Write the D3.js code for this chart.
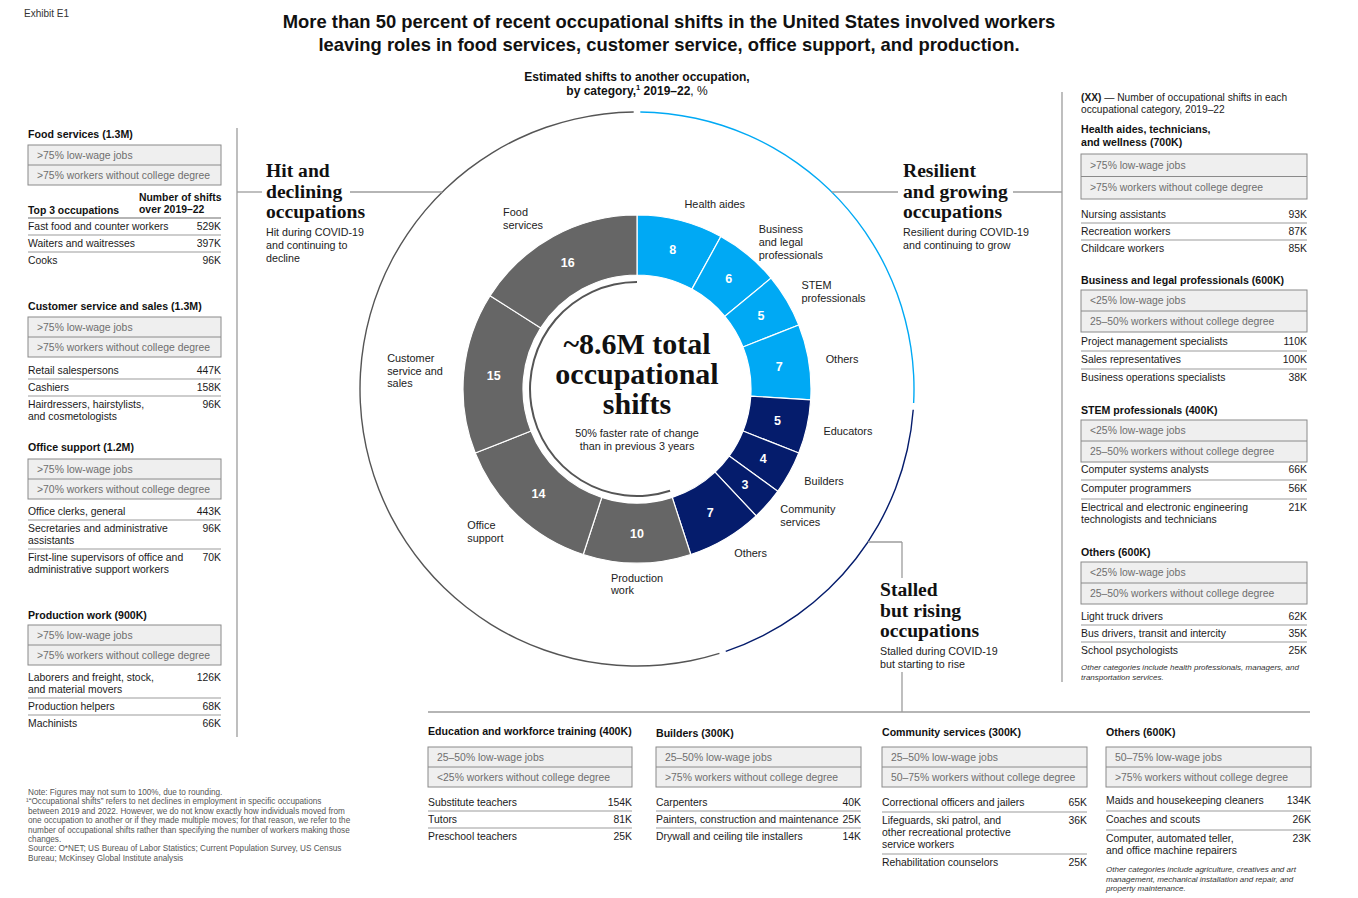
<!DOCTYPE html>
<html><head><meta charset="utf-8">
<script src="https://cdn.jsdelivr.net/npm/d3@7"></script>
<style>
body{margin:0;background:#fff;}
svg{display:block;font-family:"Liberation Sans",Arial,sans-serif;}
</style></head><body>
<svg id="chart" width="1358" height="898"></svg>
<script>
// ---------------- DATA ----------------
const categories = ["Health aides", "Business and legal professionals", "STEM professionals", "Others",
  "Educators", "Builders", "Community services", "Others",
  "Production work", "Office support", "Customer service and sales", "Food services"];
const categoryLabelLines = [["Health aides"], ["Business", "and legal", "professionals"], ["STEM", "professionals"], ["Others"],
  ["Educators"], ["Builders"], ["Community", "services"], ["Others"],
  ["Production", "work"], ["Office", "support"], ["Customer", "service and", "sales"], ["Food", "services"]];
const shares = [8, 6, 5, 7, 5, 4, 3, 7, 10, 14, 15, 16];
const groupOf = ["resilient", "resilient", "resilient", "resilient",
  "stalled", "stalled", "stalled", "stalled",
  "hit", "hit", "hit", "hit"];
const groupNames = ["resilient", "stalled", "hit"];

const foodBox = [">75% low-wage jobs", ">75% workers without college degree"];
const foodRows = [[["Fast food and counter workers"], "529K"], [["Waiters and waitresses"], "397K"], [["Cooks"], "96K"]];
const custBox = [">75% low-wage jobs", ">75% workers without college degree"];
const custRows = [[["Retail salespersons"], "447K"], [["Cashiers"], "158K"], [["Hairdressers, hairstylists,", "and cosmetologists"], "96K"]];
const officeBox = [">75% low-wage jobs", ">70% workers without college degree"];
const officeRows = [[["Office clerks, general"], "443K"], [["Secretaries and administrative", "assistants"], "96K"], [["First-line supervisors of office and", "administrative support workers"], "70K"]];
const prodBox = [">75% low-wage jobs", ">75% workers without college degree"];
const prodRows = [[["Laborers and freight, stock,", "and material movers"], "126K"], [["Production helpers"], "68K"], [["Machinists"], "66K"]];

const healthBox = [">75% low-wage jobs", ">75% workers without college degree"];
const healthRows = [[["Nursing assistants"], "93K"], [["Recreation workers"], "87K"], [["Childcare workers"], "85K"]];
const bizBox = ["<25% low-wage jobs", "25–50% workers without college degree"];
const bizRows = [[["Project management specialists"], "110K"], [["Sales representatives"], "100K"], [["Business operations specialists"], "38K"]];
const stemBox = ["<25% low-wage jobs", "25–50% workers without college degree"];
const stemRows = [[["Computer systems analysts"], "66K"], [["Computer programmers"], "56K"], [["Electrical and electronic engineering", "technologists and technicians"], "21K"]];
const othersRBox = ["<25% low-wage jobs", "25–50% workers without college degree"];
const othersRRows = [[["Light truck drivers"], "62K"], [["Bus drivers, transit and intercity"], "35K"], [["School psychologists"], "25K"]];
const othersRNote = ["Other categories include health professionals, managers, and", "transportation services."];

const eduBox = ["25–50% low-wage jobs", "<25% workers without college degree"];
const eduRows = [[["Substitute teachers"], "154K"], [["Tutors"], "81K"], [["Preschool teachers"], "25K"]];
const buildBox = ["25–50% low-wage jobs", ">75% workers without college degree"];
const buildRows = [[["Carpenters"], "40K"], [["Painters, construction and maintenance"], "25K"], [["Drywall and ceiling tile installers"], "14K"]];
const commBox = ["25–50% low-wage jobs", "50–75% workers without college degree"];
const commRows = [[["Correctional officers and jailers"], "65K"], [["Lifeguards, ski patrol, and", "other recreational protective", "service workers"], "36K"], [["Rehabilitation counselors"], "25K"]];
const othersBBox = ["50–75% low-wage jobs", ">75% workers without college degree"];
const othersBRows = [[["Maids and housekeeping cleaners"], "134K"], [["Coaches and scouts"], "26K"], [["Computer, automated teller,", "and office machine repairers"], "23K"]];
const othersBNote = ["Other categories include agriculture, creatives and art", "management, mechanical installation and repair, and", "property maintenance."];

const notes = ["Note: Figures may not sum to 100%, due to rounding.",
  "¹“Occupational shifts” refers to net declines in employment in specific occupations",
  "between 2019 and 2022. However, we do not know exactly how individuals moved from",
  "one occupation to another or if they made multiple moves; for that reason, we refer to the",
  "number of occupational shifts rather than specifying the number of workers making those",
  "changes.",
  "Source: O*NET; US Bureau of Labor Statistics; Current Population Survey, US Census",
  "Bureau; McKinsey Global Institute analysis"];

// ---------------- DRAWING ----------------
const svg = d3.select("#chart");
const color = d3.scaleOrdinal().domain(groupNames).range(["#00a9f4", "#051c6c", "#666666"]);
const lineColor = "#9c9c9c";

svg.append("text").attr("x", 24).attr("y", 17).attr("font-size", 10).attr("fill", "#333").text("Exhibit E1");
svg.append("text").attr("x", 669).attr("y", 28).attr("text-anchor", "middle").attr("font-size", 18.4).attr("font-weight", "bold").attr("fill", "#111")
  .text("More than 50 percent of recent occupational shifts in the United States involved workers");
svg.append("text").attr("x", 669).attr("y", 51).attr("text-anchor", "middle").attr("font-size", 18.4).attr("font-weight", "bold").attr("fill", "#111")
  .text("leaving roles in food services, customer service, office support, and production.");

const sub = svg.append("g").attr("font-size", 12).attr("fill", "#111").attr("text-anchor", "middle");
sub.append("text").attr("x", 637).attr("y", 81).attr("font-weight", "bold").text("Estimated shifts to another occupation,");
const s2 = sub.append("text").attr("x", 637).attr("y", 95);
s2.append("tspan").attr("font-weight", "bold").text("by category,");
s2.append("tspan").attr("font-size", 7.5).attr("dy", -5).attr("font-weight", "bold").text("1");
s2.append("tspan").attr("dy", 5).attr("font-weight", "bold").text(" 2019–22");
s2.append("tspan").text(", %");

// ---- donut ----
const cx = 637, cy = 389, rIn = 114, rOut = 174, rThin = 107, rBig = 277;
const ringData = categories.map((c, i) => ({ name: c, lines: categoryLabelLines[i], value: shares[i], group: groupOf[i] }));
const pie = d3.pie().sort(null).value(d => d.value).startAngle(0).endAngle(2 * Math.PI);
const arcs = pie(ringData);
const ring = svg.append("g").attr("transform", `translate(${cx},${cy})`);
const arcGen = d3.arc().innerRadius(rIn).outerRadius(rOut);
ring.selectAll("path.seg").data(arcs).join("path").attr("class", "seg")
  .attr("d", arcGen).attr("fill", d => color(d.data.group)).attr("stroke", "#fff").attr("stroke-width", 1.2);

const labArc = d3.arc().innerRadius((rIn + rOut) / 2).outerRadius((rIn + rOut) / 2);
ring.selectAll("text.val").data(arcs).join("text").attr("class", "val")
  .attr("transform", d => `translate(${labArc.centroid(d)})`).attr("dy", "0.36em")
  .attr("text-anchor", "middle").attr("fill", "#fff").attr("font-weight", "bold").attr("font-size", 12.5)
  .text(d => d.data.value);

// group extents
const ext = d3.rollup(arcs, v => [d3.min(v, d => d.startAngle), d3.max(v, d => d.endAngle)], d => d.data.group);
const hitExt = ext.get("hit");
ring.append("path").attr("d", d3.arc().innerRadius(rThin - 1).outerRadius(rThin + 1).startAngle(hitExt[0]).endAngle(hitExt[1])())
  .attr("fill", "#555");
const gap = 0.012;
groupNames.forEach(gn => {
  const e = ext.get(gn);
  ring.append("path").attr("d", d3.arc().innerRadius(rBig - 0.7).outerRadius(rBig + 0.7).startAngle(e[0] + gap).endAngle(e[1] - gap)())
    .attr("fill", gn === "hit" ? "#555" : color(gn));
});

// category labels around ring (left-aligned text blocks)
const lh = 12.8;
arcs.forEach(d => {
  const a = (d.startAngle + d.endAngle) / 2;
  const s = Math.sin(a);
  const rLab = s > 0.2 ? 191 : 195;
  const x = s * rLab, y = -Math.cos(a) * rLab;
  const mode = Math.abs(s) < 0.2 ? "middle" : (s > 0 ? "start" : "end");
  const n = d.data.lines.length;
  const t = ring.append("text").attr("font-size", 10.9).attr("fill", "#222");
  const spans = d.data.lines.map((ln, i) => t.append("tspan").attr("x", 0).attr("y", y - (n - 1) * lh / 2 + 4 + i * lh).text(ln));
  const w = d3.max(spans, sp => sp.node().getComputedTextLength());
  const x0 = mode === "start" ? x : (mode === "end" ? x - w : x - w / 2);
  spans.forEach(sp => sp.attr("x", x0));
});

// center text
const serif = "'Liberation Serif','Times New Roman',serif";
["~8.6M total", "occupational", "shifts"].forEach((t, i) =>
  ring.append("text").attr("y", -35 + i * 30).attr("text-anchor", "middle").attr("font-family", serif)
    .attr("font-weight", "bold").attr("font-size", 30).attr("fill", "#111").text(t));
["50% faster rate of change", "than in previous 3 years"].forEach((t, i) =>
  ring.append("text").attr("y", 48 + i * 13).attr("text-anchor", "middle").attr("font-size", 10.8).attr("fill", "#222").text(t));

// ---- section headings ----
function heading(x, y, lines, subs) {
  lines.forEach((t, i) => svg.append("text").attr("x", x).attr("y", y + i * 20.5).attr("font-family", serif)
    .attr("font-weight", "bold").attr("font-size", 19.6).attr("fill", "#111").text(t));
  subs.forEach((t, i) => svg.append("text").attr("x", x).attr("y", y + 59 + i * 13).attr("font-size", 10.7).attr("fill", "#222").text(t));
}
heading(266, 177, ["Hit and", "declining", "occupations"], ["Hit during COVID-19", "and continuing to", "decline"]);
heading(903, 177, ["Resilient", "and growing", "occupations"], ["Resilient during COVID-19", "and continuing to grow"]);
heading(880, 596, ["Stalled", "but rising", "occupations"], ["Stalled during COVID-19", "but starting to rise"]);

// leader lines
function ln(x1, y1, x2, y2) {
  svg.append("line").attr("x1", x1).attr("y1", y1).attr("x2", x2).attr("y2", y2).attr("stroke", lineColor).attr("stroke-width", 1.3);
}
const circX = (y, side) => cx + side * Math.sqrt(rBig * rBig - (cy - y) * (cy - y));
ln(237, 128, 237, 737);
ln(1062, 92, 1062, 682);
ln(428, 712, 1310, 712);
ln(237, 192, 262, 192); ln(350, 192, circX(192, -1), 192);
ln(circX(192, 1), 192, 898, 192); ln(1013, 192, 1062, 192);
ln(circX(542, 1), 542, 902, 542); ln(902, 542, 902, 578); ln(902, 672, 902, 712);

// ---- panels ----
const FS = 10.4;
function panel(p) {
  const g = svg.append("g");
  p.title.forEach((t, i) => g.append("text").attr("x", p.x).attr("y", p.titleY + i * 13).attr("font-size", 10.6)
    .attr("font-weight", "bold").attr("fill", "#111").text(t));
  const bh = p.boxH / 2;
  g.append("rect").attr("x", p.x).attr("y", p.boxY).attr("width", p.w).attr("height", p.boxH)
    .attr("fill", "#efefef").attr("stroke", "#8a8a8a").attr("stroke-width", 1);
  g.append("line").attr("x1", p.x).attr("x2", p.x + p.w).attr("y1", p.boxY + bh).attr("y2", p.boxY + bh).attr("stroke", "#8a8a8a");
  p.box.forEach((t, i) => g.append("text").attr("x", p.x + 9).attr("y", p.boxY + bh * i + bh / 2 + 3.7)
    .attr("font-size", FS).attr("fill", "#6e6e6e").text(t));
  let t = p.boxY + p.boxH + p.gap;
  if (p.header) {
    g.append("text").attr("x", p.x).attr("y", t + 24).attr("font-size", 10.4).attr("font-weight", "bold").attr("fill", "#111").text("Top 3 occupations");
    g.append("text").attr("x", p.x + 111).attr("y", t + 11).attr("font-size", 10.4).attr("font-weight", "bold").attr("fill", "#111").text("Number of shifts");
    g.append("text").attr("x", p.x + 111).attr("y", t + 23).attr("font-size", 10.4).attr("font-weight", "bold").attr("fill", "#111").text("over 2019–22");
    g.append("line").attr("x1", p.x).attr("x2", p.x + p.w).attr("y1", t + 28).attr("y2", t + 28).attr("stroke", lineColor).attr("stroke-width", 1.5);
    t += 29;
  }
  p.rows.forEach((r, i) => {
    const lines = r[0];
    lines.forEach((l, j) => g.append("text").attr("x", p.x).attr("y", t + 11 + j * 12).attr("font-size", FS).attr("fill", "#1a1a1a").text(l));
    g.append("text").attr("x", p.x + p.w).attr("y", t + 11).attr("text-anchor", "end").attr("font-size", FS).attr("fill", "#1a1a1a").text(r[1]);
    const sep = t + 16 + 12 * (lines.length - 1) + (p.extra || 0);
    if (i < p.rows.length - 1) {
      g.append("line").attr("x1", p.x).attr("x2", p.x + p.w).attr("y1", sep).attr("y2", sep).attr("stroke", lineColor).attr("stroke-width", 1.2);
    }
    t = sep + 1;
  });
  if (p.note) {
    p.note.forEach((l, j) => g.append("text").attr("x", p.x).attr("y", t + 10 + j * 9.6).attr("font-size", 8)
      .attr("font-style", "italic").attr("fill", "#333").text(l));
  }
}

// left column
panel({ x: 28, w: 193, title: ["Food services (1.3M)"], titleY: 138, boxY: 145, boxH: 40, gap: 5, box: foodBox, rows: foodRows, header: true });
panel({ x: 28, w: 193, title: ["Customer service and sales (1.3M)"], titleY: 310, boxY: 317, boxH: 40, gap: 6, box: custBox, rows: custRows });
panel({ x: 28, w: 193, title: ["Office support (1.2M)"], titleY: 451, boxY: 459, boxH: 40, gap: 5, box: officeBox, rows: officeRows });
panel({ x: 28, w: 193, title: ["Production work (900K)"], titleY: 619, boxY: 625, boxH: 40, gap: 5, box: prodBox, rows: prodRows });

// right column
const hx = svg.append("text").attr("x", 1081).attr("y", 101).attr("font-size", 10.2).attr("fill", "#1a1a1a");
hx.append("tspan").attr("font-weight", "bold").text("(XX)");
hx.append("tspan").text(" — Number of occupational shifts in each");
svg.append("text").attr("x", 1081).attr("y", 113).attr("font-size", 10.2).attr("fill", "#1a1a1a").text("occupational category, 2019–22");
panel({ x: 1081, w: 226, title: ["Health aides, technicians,", "and wellness (700K)"], titleY: 133, boxY: 154, boxH: 45, gap: 8, box: healthBox, rows: healthRows });
panel({ x: 1081, w: 226, title: ["Business and legal professionals (600K)"], titleY: 284, boxY: 290, boxH: 42, gap: 2, box: bizBox, rows: bizRows, extra: 1 });
panel({ x: 1081, w: 226, title: ["STEM professionals (400K)"], titleY: 414, boxY: 420, boxH: 42, gap: 0, box: stemBox, rows: stemRows, extra: 2 });
panel({ x: 1081, w: 226, title: ["Others (600K)"], titleY: 556, boxY: 562, boxH: 42, gap: 5, box: othersRBox, rows: othersRRows, note: othersRNote });

// bottom row
panel({ x: 428, w: 204, title: ["Education and workforce training (400K)"], titleY: 735, boxY: 747, boxH: 40, gap: 8, box: eduBox, rows: eduRows });
panel({ x: 656, w: 205, title: ["Builders (300K)"], titleY: 737, boxY: 747, boxH: 40, gap: 8, box: buildBox, rows: buildRows });
panel({ x: 882, w: 205, title: ["Community services (300K)"], titleY: 736, boxY: 747, boxH: 40, gap: 8, box: commBox, rows: commRows, extra: 1 });
panel({ x: 1106, w: 205, title: ["Others (600K)"], titleY: 736, boxY: 747, boxH: 40, gap: 6, box: othersBBox, rows: othersBRows, extra: 2, note: othersBNote });

// notes
notes.forEach((t, i) => svg.append("text").attr("x", i === 1 ? 26 : 28).attr("y", 795 + i * 9.4)
  .attr("font-size", 8.2).attr("fill", "#555").text(t));
</script>
</body></html>
